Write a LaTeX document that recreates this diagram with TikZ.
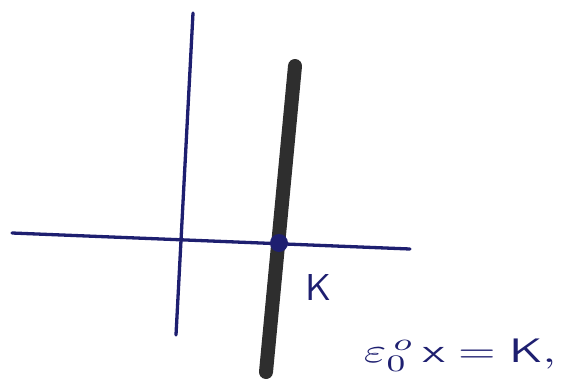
\documentclass[tikz,border=0pt]{standalone}
\usepackage{graphicx}
\begin{document}
\begin{tikzpicture}[x=1pt,y=-1pt,
  ink/.style={draw=inkblue,line width=3.3pt,line cap=round},
  bar/.style={draw=barcol,line width=14pt,line cap=round},
  lab/.style={text=inkblue,inner sep=0pt}]
\definecolor{inkblue}{HTML}{1E1F70}
\definecolor{barcol}{HTML}{2E2E2E}
\useasboundingbox (0,0) rectangle (585,378);
\coordinate (hl) at (12,233);
\coordinate (hr) at (410,249);
\coordinate (vt) at (193,13);
\coordinate (vb) at (176,335);
\coordinate (bt) at (295,66);
\coordinate (bb) at (266,372);
\draw[ink] (hl) -- (hr);
\draw[ink] (vt) -- (vb);
\draw[bar] (bt) -- (bb);
\node[circle,fill=inkblue,inner sep=0pt,minimum size=18pt] (dot) at (279,243) {};
\node[lab] (k) at (318,287) {\resizebox*{!}{26pt}{\sffamily K}};
\node[lab] (eq) at (460,355) {\resizebox*{192pt}{32pt}{$\varepsilon_{0}^{\,o}\,\mathsf{x}=\mathsf{K},$}};
\end{tikzpicture}
\end{document}
